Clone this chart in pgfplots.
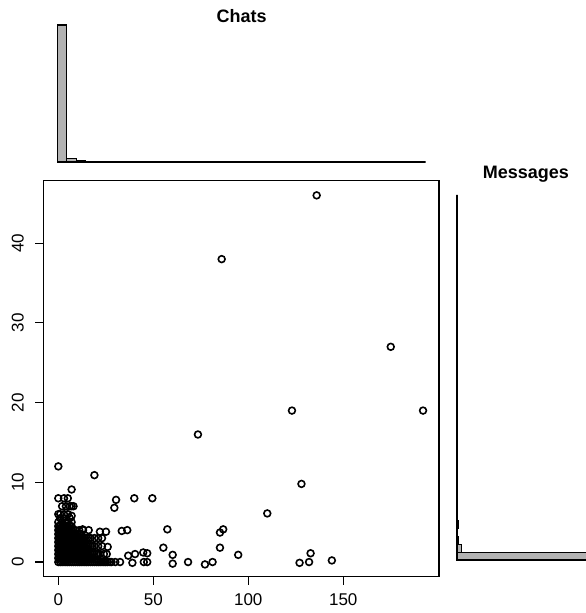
\documentclass[border=0pt]{standalone}
\usepackage{fontspec}
\setmainfont{Liberation Sans}
\usepackage{pgfplots}
\pgfplotsset{compat=1.18}
\begin{document}
\begin{tikzpicture}[x=1pt,y=1pt]
\useasboundingbox (0,0) rectangle (586,613);
% main scatter
\begin{axis}[at={(43.3pt,36.3pt)}, anchor=south west, scale only axis,
  width=395.7pt, height=396pt,
  xmin=-7.9, xmax=200.4, ymin=-1.84, ymax=47.84,
  xtick={0,50,100,150}, ytick={0,10,20,30,40},
  tick align=outside, xtick pos=bottom, ytick pos=left,
  major tick length=8pt,
  axis line style={line width=1.1pt},
  major tick style={line width=1.1pt, black},
  tick label style={font=\fontsize{17}{19}\selectfont},
  /pgf/number format/assume math mode=true,
  yticklabel style={rotate=90, anchor=south},
  yticklabel shift=8pt, xticklabel shift=5pt,
  clip=false]
\addplot[only marks, mark=o, mark size=3.4pt, mark options={line width=1.6pt, black}] coordinates {
(136,46) (86,38) (175,27) (123,19) (192,19) (73.5,16) (128,9.8) (110,6.1) (19,10.9) (7,9.1) (0,12)
(49.5,8) (40,8) (30.4,7.8) (29.5,6.8) (33.4,3.9) (36.3,4) (57.4,4.1) (55.3,1.8) (60.2,0.9) (60.2,-0.2)
(68.3,0) (77.2,-0.3) (81.2,0) (85.1,1.8) (85.1,3.7) (86.8,4.1) (94.7,0.9) (127,-0.1) (132,0) (132.8,1.1) (144,0.2)
(36.8,0.8) (40.4,1) (39,-0.1) (44.7,1.2) (46.8,1.1) (45,0) (46.8,0) (27.2,0) (32.5,0) (26,1.9) (25.5,1)
(21.9,3.8) (25.1,3.8) (12.8,4.1)
(0,0) (1,0) (2,0) (3,0) (4,0) (5,0) (6,0) (7,0) (8,0) (9,0) (10,0) (11,0) (12,0) (13,0) (14,0) (15,0)
(16,0) (17,0) (18,0) (19,0) (20,0) (21,0) (22,0) (23,0) (24,0) (25,0) (26,0) (28,0) (30,0)
(0,0.5) (1,0.5) (2,0.5) (3,0.5) (4,0.5) (5,0.5) (6,0.5) (7,0.5) (8,0.5) (9,0.5) (10,0.5) (11,0.5) (12,0.5)
(13,0.5) (14,0.5) (15,0.5) (16,0.5) (17,0.5) (18,0.5)
(0,1) (1,1) (2,1) (3,1) (4,1) (5,1) (6,1) (7,1) (8,1) (9,1) (10,1) (11,1) (12,1) (13,1) (14,1) (15,1)
(16,1) (17,1) (18,1) (19,1) (20,1) (21,1) (22,1) (24,1)
(0,1.5) (1,1.5) (2,1.5) (3,1.5) (4,1.5) (5,1.5) (6,1.5) (7,1.5) (8,1.5) (9,1.5) (10,1.5) (11,1.5) (12,1.5)
(13,1.5) (14,1.5) (15,1.5) (16,1.5)
(0,2) (1,2) (2,2) (3,2) (4,2) (5,2) (6,2) (7,2) (8,2) (9,2) (10,2) (11,2) (12,2) (13,2) (14,2) (15,2)
(16,2) (17,2) (18,2) (19,2) (21,2) (23,2)
(0,2.5) (1,2.5) (2,2.5) (3,2.5) (4,2.5) (5,2.5) (6,2.5) (7,2.5) (8,2.5) (9,2.5) (10,2.5) (11,2.5) (12,2.5)
(13,2.5) (14,2.5)
(0,3) (1,3) (2,3) (3,3) (4,3) (5,3) (6,3) (7,3) (8,3) (9,3) (10,3) (11,3) (12,3) (13,3) (14,3) (15,3)
(16,3) (17,3) (19,3) (21,3) (23,3)
(0,3.5) (1,3.5) (2,3.5) (3,3.5) (4,3.5) (5,3.5) (6,3.5) (7,3.5) (8,3.5) (9,3.5) (10,3.5) (12,3.5)
(0,4) (1,4) (2,4) (3,4) (4,4) (5,4) (6,4) (7,4) (8,4) (9,4) (11,4) (13,4) (16,4)
(0,4.5) (1,4.5) (2,4.5) (3,4.5) (4,4.5) (5,4.5) (6,4.5) (7,4.5)
(0,5) (2,5) (4,5) (5,5) (7,5)
(1,5.5) (3,5.5) (6,5.5)
(0,6) (1,6) (3,6) (5,6) (7,5.8)
(2,7) (4,7) (6,7) (7,7) (8,7)
(0,8) (3,8) (5,8)
};
\end{axis}
% top histogram (Chats)
\begin{axis}[at={(57.5pt,451pt)}, anchor=south west, scale only axis,
  width=368pt, height=137pt, xmin=0, xmax=195, ymin=0, ymax=740,
  hide axis, clip=false]
\addplot[ybar interval, fill=gray!60, draw=black, line width=1.1pt] coordinates {
(0,740) (5,20) (10,9) (15,4) (20,0) (25,0) (30,0) (35,0) (40,0) (45,0) (50,0) (55,0) (60,0)
(65,0) (70,0) (75,0) (80,0) (85,0) (90,0) (95,0) (100,0) (105,0) (110,0) (115,0) (120,0)
(125,0) (130,0) (135,0) (140,0) (145,0) (150,0) (155,0) (160,0) (165,0) (170,0) (175,0)
(180,0) (185,0) (190,0) (195,0)};
\end{axis}
% right histogram (Messages)
\begin{axis}[at={(457pt,53pt)}, anchor=south west, scale only axis,
  width=129pt, height=365pt, xmin=0, xmax=690, ymin=0, ymax=46,
  hide axis, clip=false]
\addplot[xbar interval, fill=gray!60, draw=black, line width=1.1pt] coordinates {
(1000,0) (25,1) (6,2) (5,3) (6,4) (3,5) (3,6) (4,7) (5,8) (2,9) (0,10) (0,11) (0,12) (0,13)
(0,14) (0,15) (0,16) (0,17) (0,18) (0,19) (0,20) (0,21) (0,22) (0,23) (0,24) (0,25) (0,26)
(0,27) (0,28) (0,29) (0,30) (0,31) (0,32) (0,33) (0,34) (0,35) (0,36) (0,37) (0,38) (0,39)
(0,40) (0,41) (0,42) (0,43) (0,44) (0,45) (0,46)};
\end{axis}
\node[font=\bfseries\fontsize{18}{21}\selectfont, anchor=base, inner sep=0pt] at (241.7,590.3) {Chats};
\node[font=\bfseries\fontsize{18}{21}\selectfont, anchor=base, inner sep=0pt] at (525.8,434.7) {Messages};
\end{tikzpicture}
\end{document}
